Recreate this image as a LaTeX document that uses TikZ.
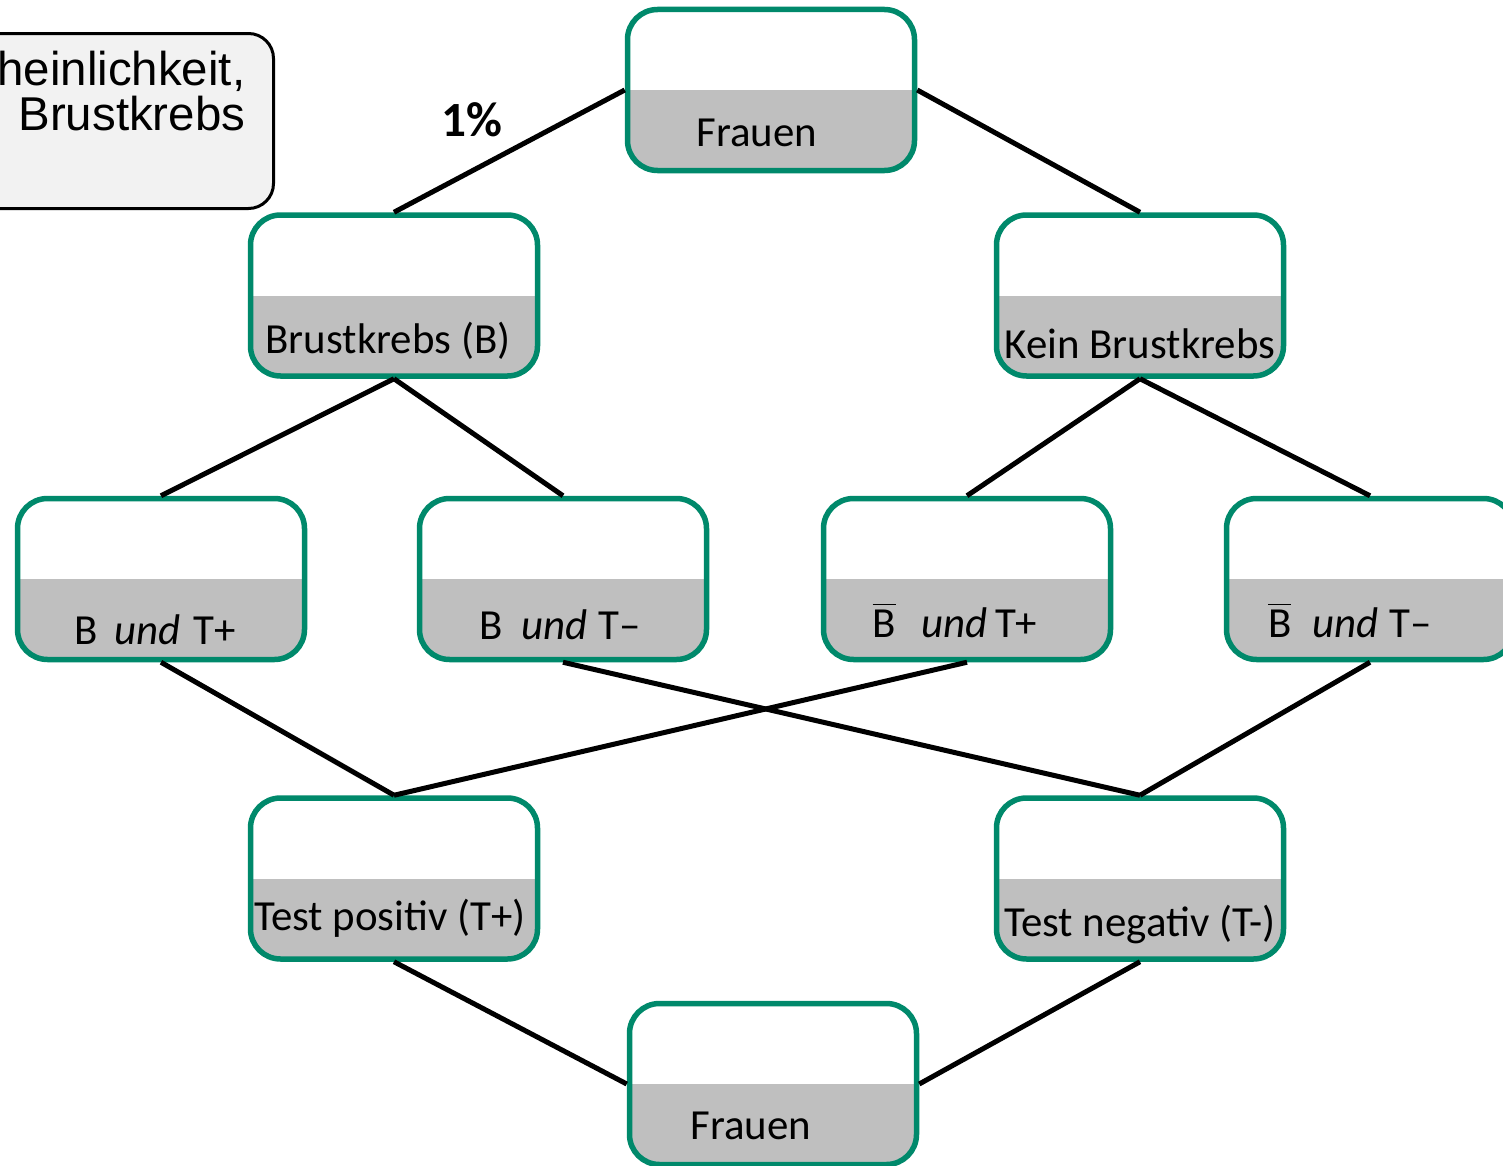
\documentclass[tikz,border=0pt]{standalone}
\usepackage{fontspec}
\setmainfont{Carlito}
\newfontfamily\arialfont{Liberation Sans}
\definecolor{boxgreen}{RGB}{0,137,107}
\definecolor{bandgrey}{RGB}{191,191,191}
\definecolor{notegrey}{RGB}{242,242,242}
\tikzset{
  box/.style={draw=boxgreen, line width=0.055cm, rounded corners=0.3cm,
    minimum width=2.87cm, minimum height=1.61cm, fill=white,
    path picture={\fill[bandgrey, sharp corners] (path picture bounding box.west)
      rectangle (path picture bounding box.south east);}},
  boxtext/.style={font=\fontsize{12.2}{15}\selectfont, inner sep=0pt},
  notetext/.style={font=\arialfont\fontsize{13.5}{16}\selectfont, inner sep=0pt, anchor=base east},
  edge/.style={line width=0.05cm, black}
}

\begin{document}
\begin{tikzpicture}
	\useasboundingbox (0,0) rectangle (15.03,-11.66);
	
	% note box, cut off at the left
	\draw[fill=notegrey, line width=0.03cm, rounded corners=0.25cm] (-0.5,-0.335) rectangle (2.735,-2.085);
	\node[notetext] (note1) at (2.46,-0.86) {heinlichkeit,};
	\node[notetext] (note2) at (2.46,-1.31) {Brustkrebs};
	
	\node[box, label={[boxtext, xshift=-0.14cm, yshift=-0.43cm]center:Frauen}] (f1) at (7.71,-0.90) {};
	\node[box, label={[boxtext, xshift=-0.06cm, yshift=-0.45cm]center:Brustkrebs (B)}] (b) at (3.94,-2.955) {};
	\node[box, label={[boxtext, yshift=-0.48cm]center:Kein Brustkrebs}] (nb) at (11.40,-2.955) {};
	
	\node[box, label={[boxtext, xshift=-0.06cm, yshift=-0.51cm]center:B\hspace{0.4em}\textit{und}\hspace{0.3em}T+}] (bp) at (1.61,-5.79) {};
	\node[box, label={[boxtext, xshift=-0.03cm, yshift=-0.46cm]center:B\hspace{0.45em}\textit{und}\hspace{0.25em}T–}] (bm) at (5.63,-5.79) {};
	\node[box, label={[boxtext, xshift=-0.12cm, yshift=-0.41cm]center:$\overline{\mbox{B}}$\hspace{0.6em}\textit{und}\,T+}] (nbp) at (9.67,-5.79) {};
	\node[box, label={[boxtext, xshift=-0.20cm, yshift=-0.41cm]center:$\overline{\mbox{B}}$\hspace{0.5em}\textit{und}\hspace{0.25em}T–}] (nbm) at (13.70,-5.79) {};
	
	\node[box, label={[boxtext, xshift=-0.04cm, yshift=-0.40cm]center:Test positiv (T+)}] (tp) at (3.94,-8.785) {};
	\node[box, label={[boxtext, yshift=-0.46cm]center:Test negativ (T-)}] (tm) at (11.40,-8.785) {};
	
	\node[box, label={[boxtext, xshift=-0.22cm, yshift=-0.42cm]center:Frauen}] (f2) at (7.73,-10.84) {};
	
	\node[font=\bfseries\fontsize{14}{16}\selectfont] (pct) at (4.72,-1.20) {1\%};
	
	\draw[edge] (f1.west)--(b.north);
	\draw[edge] (f1.east)--(nb.north);
	\draw[edge] (b.south)--(bp.north);
	\draw[edge] (b.south)--(bm.north);
	\draw[edge] (nb.south)--(nbp.north);
	\draw[edge] (nb.south)--(nbm.north);
	\draw[edge] (bp.south)--(tp.north);
	\draw[edge] (bm.south)--(tm.north);
	\draw[edge] (nbp.south)--(tp.north);
	\draw[edge] (nbm.south)--(tm.north);
	\draw[edge] (tp.south)--(f2.west);
	\draw[edge] (tm.south)--(f2.east);
	
\end{tikzpicture}
\end{document}
